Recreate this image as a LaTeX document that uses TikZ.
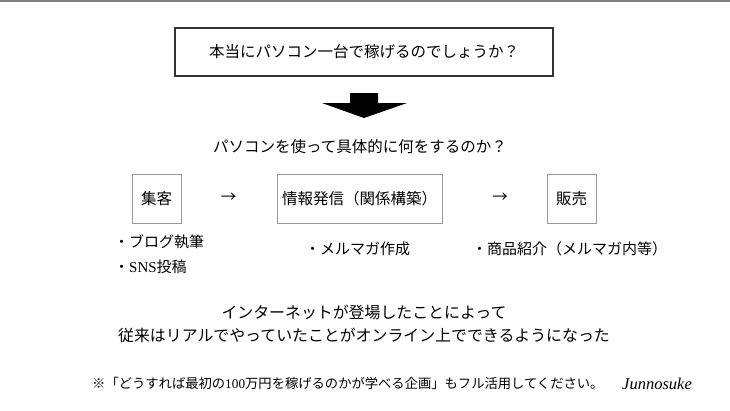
\documentclass[tikz,border=0pt]{standalone}
\usepackage{fontspec}
\setmainfont{Noto Sans CJK JP}
\newfontfamily\latinf{Liberation Serif}
\begin{document}
\begin{tikzpicture}[x=1pt,y=-1pt,
  txt/.style={inner sep=0pt,font=\fontsize{15.5}{18}\selectfont},
  bul/.style={inner sep=0pt,anchor=west,font=\fontsize{15}{18}\selectfont},
  stepbox/.style={draw=black!40,line width=0.9pt,minimum height=49pt,inner sep=0pt,font=\fontsize{15.5}{18}\selectfont}]
\useasboundingbox (0,0) rectangle (730,410);
\fill[white] (0,0) rectangle (730,410);
\draw[black!50,line width=1.5pt] (0,0.75) -- (730,0.75);
% title box
\node[draw=black!80,line width=1.1pt,minimum width=378pt,minimum height=48pt,inner sep=0pt,
  font=\fontsize{15.5}{18}\selectfont] (title) at (364,52) {本当にパソコン一台で稼げるのでしょうか？};
% big arrow
\fill[black] (350,93) -- (378,93) -- (378,103) -- (407,103) -- (364,118) -- (322,103) -- (350,103) -- cycle;
\node[txt] (q) at (360,147) {パソコンを使って具体的に何をするのか？};
% steps
\node[stepbox,minimum width=49pt] (s1) at (156.5,198.5) {集客};
\node[stepbox,minimum width=165pt] (s2) at (359.5,198.5) {情報発信（関係構築）};
\node[stepbox,minimum width=49pt] (s3) at (571.5,198.5) {販売};
\node[txt] (a1) at (228.5,198) {→};
\node[txt] (a2) at (500,198) {→};
% bullets
\node[bul] (b1) at (114,242) {・ブログ執筆};
\node[bul] (b2) at (114,267) {・{\latinf SNS}投稿};
\node[bul] (b3) at (305,249) {・メルマガ作成};
\node[bul] (b4) at (472,249) {・商品紹介（メルマガ内等）};
% statement
\node[txt,font=\fontsize{15.9}{18}\selectfont] (l1) at (364,312) {インターネットが登場したことによって};
\node[txt,font=\fontsize{15.9}{18}\selectfont] (l2) at (364,335) {従来はリアルでやっていたことがオンライン上でできるようになった};
% footer
\node[inner sep=0pt,anchor=west,font=\fontsize{13.3}{16}\selectfont] (note) at (92,383)
  {※「どうすれば最初の{\latinf 100}万円を稼げるのかが学べる企画」もフル活用してください。};
\node[inner sep=0pt,font=\latinf\itshape\fontsize{16.5}{18}\selectfont] (sig) at (657,384) {Junnosuke};
\end{tikzpicture}
\end{document}
